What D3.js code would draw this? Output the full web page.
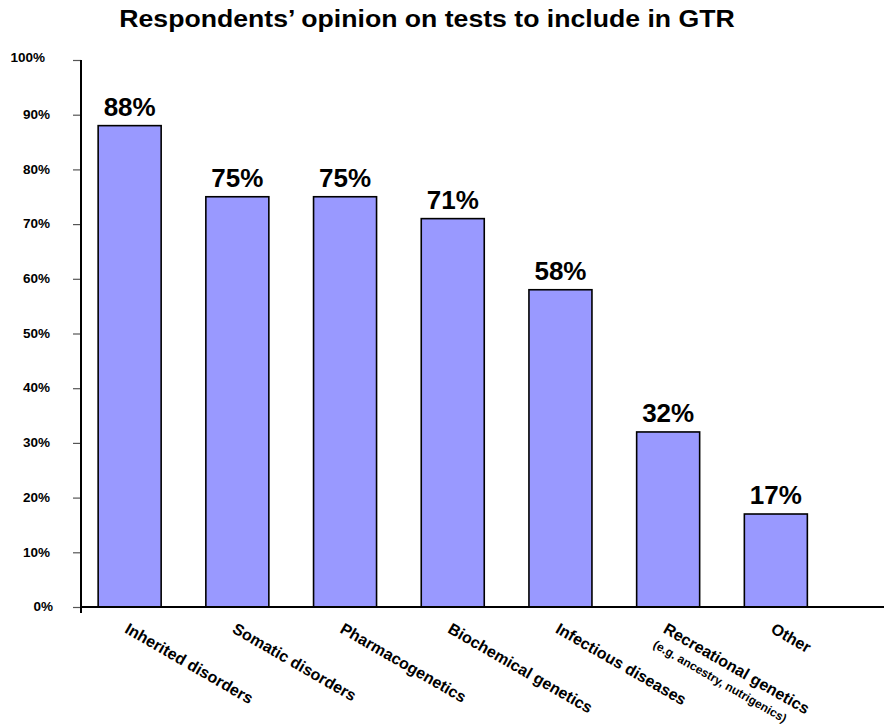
<!DOCTYPE html>
<html>
<head>
<meta charset="utf-8">
<script src="https://cdn.jsdelivr.net/npm/d3@7/dist/d3.min.js"></script>
<style>
  html, body { margin: 0; padding: 0; background: #fff; }
  svg { display: block; }
  text { font-family: "Liberation Sans", Arial, Helvetica, sans-serif; font-weight: bold; fill: #000; }
</style>
</head>
<body>
<svg id="chart" width="884" height="728"></svg>
<script>
// Survey results: share of respondents wanting each test type in the GTR
const categories = [
  "Inherited disorders",
  "Somatic disorders",
  "Pharmacogenetics",
  "Biochemical genetics",
  "Infectious diseases",
  "Recreational genetics",
  "Other"
];
const subLabels = ["", "", "", "", "", "(e.g. ancestry, nutrigenics)", ""];
const values = [88, 75, 75, 71, 58, 32, 17];
const yTicks = [0, 10, 20, 30, 40, 50, 60, 70, 80, 90, 100];
const title = "Respondents\u2019 opinion on tests to include in GTR";

const svg = d3.select("#chart");
const axisX = 81, axisBottom = 607, axisTop = 60, xEnd = 884;

const y = d3.scaleLinear().domain([0, 100]).range([axisBottom, axisTop]);
const x = d3.scaleBand()
  .domain(categories)
  .range([75.8, 829.7])
  .paddingInner(0.415)
  .paddingOuter(0.2075);

// Title, slightly widened lettering
svg.append("g")
  .attr("transform", "translate(427,27) scale(1.11,1)")
  .append("text")
  .attr("text-anchor", "middle")
  .attr("font-size", 24)
  .text(title);

// Y axis
const yAxis = d3.axisLeft(y)
  .tickValues(yTicks)
  .tickSize(8)
  .tickPadding(23)
  .tickFormat(d => d + "%");

const gy = svg.append("g")
  .attr("transform", `translate(${axisX},0)`)
  .call(yAxis);
gy.select(".domain").remove();
gy.selectAll(".tick line").attr("stroke", "#555").attr("stroke-width", 1.2);
gy.selectAll(".tick text")
  .attr("font-size", 13.5)
  .attr("font-family", "Liberation Sans, Arial, sans-serif")
  .attr("font-weight", "bold")
  .attr("fill", "#000")
  .attr("dx", d => d === 100 ? -5 : d === 0 ? 3 : 0)
  .attr("dy", d => d === 100 ? "0.1em" : "0.28em");

// Bars
svg.append("g")
  .selectAll("rect")
  .data(values)
  .join("rect")
  .attr("x", (d, i) => x(categories[i]))
  .attr("y", d => y(d))
  .attr("width", x.bandwidth())
  .attr("height", d => y(0) - y(d))
  .attr("fill", "#9999ff")
  .attr("stroke", "#000")
  .attr("stroke-width", 1.6);

// Value labels above bars
svg.append("g")
  .selectAll("text")
  .data(values)
  .join("text")
  .attr("x", (d, i) => x(categories[i]) + x.bandwidth() / 2)
  .attr("y", d => y(d) - 10)
  .attr("text-anchor", "middle")
  .attr("font-size", 26)
  .text(d => d + "%");

// Axis lines
svg.append("line")
  .attr("x1", axisX).attr("x2", axisX)
  .attr("y1", axisTop).attr("y2", axisBottom + 6)
  .attr("stroke", "#000").attr("stroke-width", 2);
svg.append("line")
  .attr("x1", axisX).attr("x2", xEnd)
  .attr("y1", axisBottom).attr("y2", axisBottom)
  .attr("stroke", "#000").attr("stroke-width", 2);

// Category labels, slanted
const gx = svg.append("g")
  .selectAll("g")
  .data(categories)
  .join("g")
  .attr("transform", d => `translate(${x(d) + x.bandwidth() / 2 - 6},632) rotate(30)`);

gx.append("text")
  .attr("font-size", 16)
  .text(d => d);

gx.append("text")
  .attr("x", -1)
  .attr("y", 18)
  .attr("font-size", 12)
  .text((d, i) => subLabels[i]);
</script>
</body>
</html>
